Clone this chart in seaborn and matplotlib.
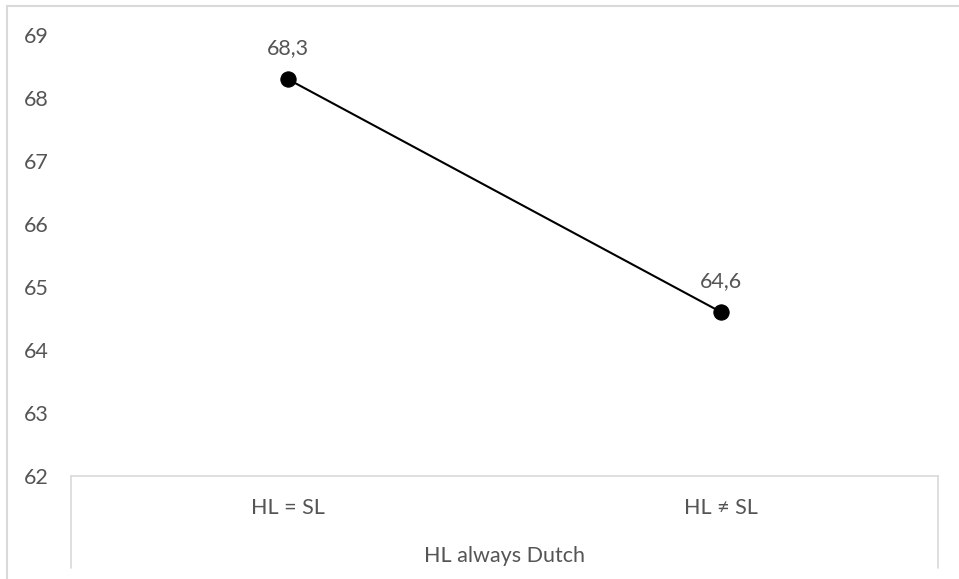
import matplotlib
matplotlib.use("Agg")
import matplotlib.pyplot as plt
from matplotlib.lines import Line2D
import seaborn as sns
import pandas as pd

categories = ["HL = SL", "HL \u2260 SL"]
values = [68.3, 64.6]
group_label = "HL always Dutch"
y_ticks = [62, 63, 64, 65, 66, 67, 68, 69]

sns.set_theme(style="white")
plt.rcParams["font.family"] = ["Lato", "DejaVu Sans"]

W, H = 959, 579
fig = plt.figure(figsize=(W / 100, H / 100), dpi=100)
left, right, top, bottom = 71, 938, 35, 476
ax = fig.add_axes([left / W, 1 - bottom / H, (right - left) / W, (bottom - top) / H])

df = pd.DataFrame({"cat": categories, "val": values})
sns.lineplot(data=df, x="cat", y="val", ax=ax, color="black", linewidth=1.5,
             marker="o", markersize=11, markeredgecolor="black", sort=False)
for line in ax.lines:
    line.set_clip_on(False)

fs = 15.5
ax.set_xlim(-0.5, 1.5)
ax.set_ylim(62, 69)
ax.set_yticks(y_ticks)
ax.set_yticklabels([str(t) for t in y_ticks])
txt_color = "#555555"
ax.tick_params(axis="y", length=0, pad=16, labelsize=fs, labelcolor=txt_color)
ax.tick_params(axis="x", length=0, pad=16, labelsize=fs, labelcolor=txt_color)
ax.set_ylabel("")
ax.set_xlabel(group_label, fontsize=fs, color=txt_color, labelpad=20)

for s in ["left", "right", "top"]:
    ax.spines[s].set_visible(False)
ax.spines["bottom"].set_color("#D9D9D9")
ax.spines["bottom"].set_linewidth(1.2)
ax.grid(False)

depth = (568 - 476) / (bottom - top)
for xx in (0, 1):
    ax.add_line(Line2D([xx, xx], [0, -depth], transform=ax.transAxes,
                       color="#D9D9D9", linewidth=1.2, clip_on=False))

for i, v in enumerate(values):
    ax.annotate(f"{v:.1f}".replace(".", ","), xy=(i, v), xytext=(0, 31),
                textcoords="offset pixels", ha="center", va="center",
                fontsize=fs, color=txt_color)

# outer chart frame (partially cropped)
fx, fy = 6.5 / W, 1 - 5.5 / H
fig.add_artist(Line2D([fx, 1.0], [fy, fy], transform=fig.transFigure,
                      color="#D9D9D9", linewidth=1.5))
fig.add_artist(Line2D([fx, fx], [fy, 0.0], transform=fig.transFigure,
                      color="#D9D9D9", linewidth=1.5))

fig.savefig("out.png", dpi=100, facecolor="white")
